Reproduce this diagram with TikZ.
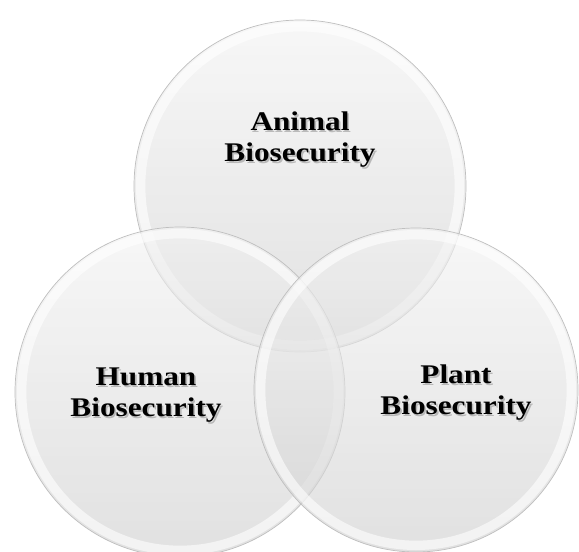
\documentclass[tikz,border=0pt]{standalone}
\usepackage{fontspec}
\setmainfont{Liberation Serif}
\newfontfamily\vennfont[FakeStretch=1.16]{Liberation Serif}
\tikzset{
  disc/.style={top color=gray!10, bottom color=gray!38, fill opacity=0.62},
  discrim/.style={draw=white, line width=0.28cm, draw opacity=0.6},
  discedge/.style={draw=gray!50, line width=0.6pt},
  label/.style={align=center, font=\vennfont\fontsize{23}{26.5}\selectfont\bfseries, text=black},
  labelshadow/.style={label, text=black, opacity=0.22}
}
\begin{document}
\begin{tikzpicture}
\useasboundingbox (0,0) rectangle (17.37,-16.53);
%
% Animal
\shade[disc] (9.0,-5.58) circle (4.98cm);
\draw[discrim] (9.0,-5.58) circle (4.78cm);
\draw[discedge] (9.0,-5.58) circle (4.98cm);
% Human
\shade[disc] (5.4,-11.76) circle (4.95cm);
\draw[discrim] (5.4,-11.76) circle (4.75cm);
\draw[discedge] (5.4,-11.76) circle (4.95cm);
% Plant
\shade[disc] (12.48,-11.7) circle (4.86cm);
\draw[discrim] (12.48,-11.7) circle (4.66cm);
\draw[discedge] (12.48,-11.7) circle (4.86cm);

% labels
\node[labelshadow] at (9.05,-4.26) {Animal\\Biosecurity};
\node[label] (animal) at (9.0,-4.2) {Animal\\Biosecurity};
\node[labelshadow] at (4.43,-11.91) {Human\\Biosecurity};
\node[label] (human) at (4.38,-11.85) {Human\\Biosecurity};
\node[labelshadow] at (13.73,-11.84) {Plant\\Biosecurity};
\node[label] (plant) at (13.68,-11.78) {Plant\\Biosecurity};
\end{tikzpicture}
\end{document}
